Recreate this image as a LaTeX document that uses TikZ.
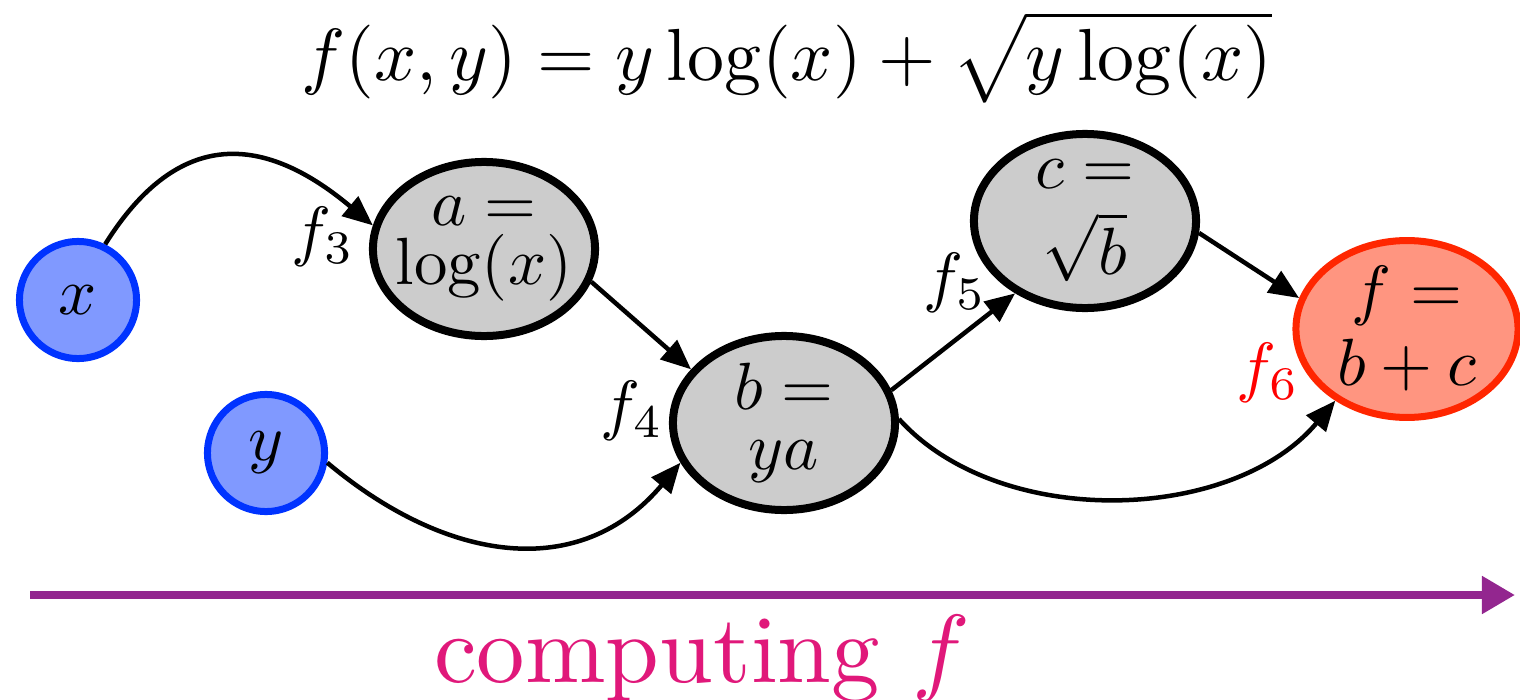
\documentclass[tikz,border=0pt]{standalone}
\usetikzlibrary{shapes.geometric,arrows.meta}
\definecolor{inblue}{RGB}{0,51,255}
\definecolor{inbluefill}{RGB}{128,153,255}
\definecolor{opgray}{RGB}{204,204,204}
\definecolor{outred}{RGB}{255,38,0}
\definecolor{outredfill}{RGB}{255,149,128}
\definecolor{labred}{RGB}{255,0,0}
\definecolor{arrpurple}{RGB}{147,38,143}
\definecolor{txtmagenta}{RGB}{224,24,122}
\newcommand\nt[1]{\scalebox{1.9}{$#1$}}
\tikzset{
  inputnode/.style={circle, draw=inblue, fill=inbluefill, line width=0.07cm,
    minimum size=1.17cm, inner sep=0pt},
  opnode/.style={ellipse, draw=black, fill=opgray, line width=0.08cm,
    minimum width=2.22cm, minimum height=1.74cm, inner xsep=-0.1cm, inner ysep=0pt,
    align=center, font=\fontsize{10}{17}\selectfont},
  outnode/.style={opnode, draw=outred, fill=outredfill, line width=0.07cm},
  edgelabel/.style={anchor=base, inner sep=0pt},
  conn/.style={line width=0.045cm, -{Triangle[length=0.3cm,width=0.25cm]}},
}
\begin{document}
\begin{tikzpicture}[x=0.01cm, y=0.01cm]
\useasboundingbox (0,0) rectangle (1520,699);
% formula
\node[anchor=base, inner sep=0pt] (formula) at (787,618.5)
  {\scalebox{2.1}{$f(x,y)=y\log(x)+\sqrt{y\log(x)}$}};
% nodes
\node[inputnode] (x) at (78,399) {\nt{x}};
\node[inputnode] (y) at (266,246) {\nt{y}};
\node[opnode] (a) at (484,450) {\nt{a=}\\\nt{\log(x)}};
\node[opnode] (b) at (784,276) {\nt{b=}\\\nt{ya}};
\node[opnode] (c) at (1085,478) {\nt{c=}\\[5.8pt]\nt{\sqrt{b}}};
\node[outnode] (f) at (1407,370) {\nt{f=}\\[3.8pt]\nt{b+c}};
% labels
\node[edgelabel] (l3) at (323,446) {\nt{f_3}};
\node[edgelabel] (l4) at (632,272) {\nt{f_4}};
\node[edgelabel] (l5) at (955,400) {\nt{f_5}};
\node[edgelabel, text=labred] (l6) at (1268,310) {\nt{f_6}};
% connectors
\draw[conn] (x.64) .. controls +(58:140) and +(140:140) .. (a.168);
\draw[conn] (y.351) .. controls +(-40:156) and +(230:156) .. (b.201);
\draw[conn] (a.343) -- (b.150);
\draw[conn] (b.17) -- (c.226);
\draw[conn] (c.354) -- (f.164);
\draw[conn] (b.2) .. controls +(-48:150) and +(230:160) .. (f.225);
% time arrow
\coordinate (t0) at (30,104);
\coordinate (t1) at (1515,104);
\draw[line width=0.08cm, arrpurple, -{Triangle[length=0.33cm,width=0.36cm]}] (t0) -- (t1);
\node[anchor=base, inner sep=0pt, text=txtmagenta] (comp) at (702,17)
  {\scalebox{2.75}{computing $f$}};
\end{tikzpicture}
\end{document}
